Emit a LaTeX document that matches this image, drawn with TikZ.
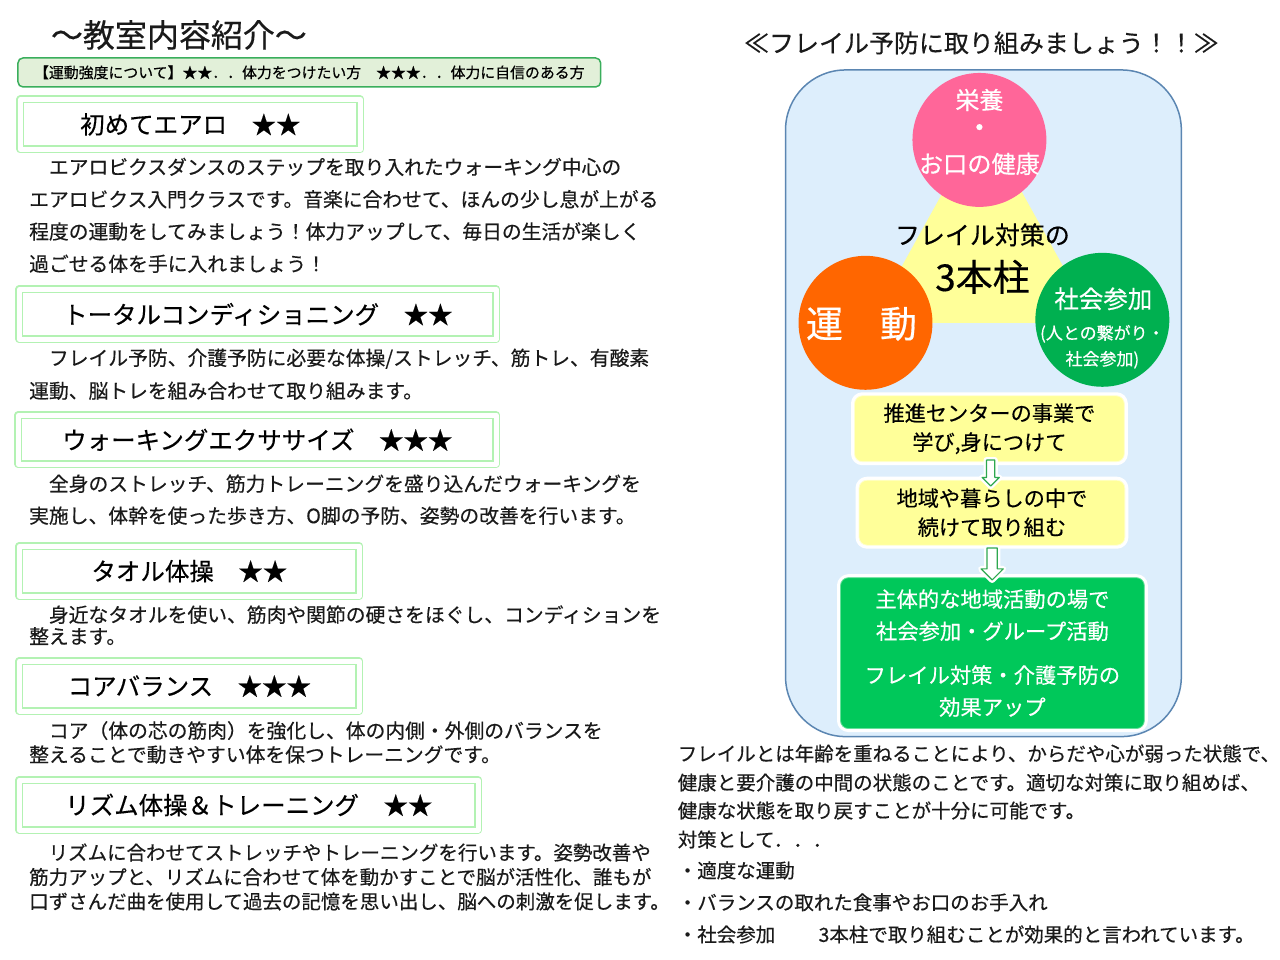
\documentclass[tikz,border=0pt]{standalone}
\usepackage{fontspec}
\setmainfont{Noto Sans CJK JP}[FakeBold=0.4]
\usetikzlibrary{shapes.arrows,calc}
\definecolor{inkgray}{HTML}{1A1A1A}
\definecolor{framegreen}{HTML}{B3F2B3}
\definecolor{bandfill}{HTML}{E2F0D9}
\definecolor{bandedge}{HTML}{3AAE5C}
\definecolor{panelfill}{HTML}{DDEEFC}
\definecolor{panelblue}{HTML}{5B86B2}
\definecolor{triyellow}{HTML}{FFFF99}
\definecolor{pinkc}{HTML}{FF6699}
\definecolor{orangec}{HTML}{FF6600}
\definecolor{greenc}{HTML}{00B050}
\definecolor{flowyellow}{HTML}{FFFF99}
\definecolor{yedge}{HTML}{FFFFD0}
\definecolor{flowgreen}{HTML}{00C85A}
\definecolor{gedge}{HTML}{66E09A}
\definecolor{arrowgreen}{HTML}{2EA84F}
\newcommand\fsz[2]{\fontsize{#1}{#2}\selectfont}
\begin{document}
\begin{tikzpicture}[x=1pt,y=-1pt,line join=round,
  body/.style={anchor=west,inner sep=0pt,font=\fsz{19.8}{24},text=inkgray},
  classbox/.style={draw=framegreen,double=white,double distance=5pt,line width=1.5pt,minimum height=50pt,inner sep=0pt,font=\fsz{24.5}{28}},
  circ/.style={circle,minimum size=134pt,inner sep=0pt},
  wtext/.style={text=white,inner sep=0pt},
  flowbox/.style={rounded corners=8pt,preaction={draw=white,line width=7pt},line width=0.8pt,inner sep=0pt,align=center,font=\fsz{21.2}{29}},
  flowarrow/.style={single arrow,shape border rotate=270,draw=arrowgreen,fill=white,line width=1.2pt,preaction={draw=white,line width=6pt}}]
\fill[white] (0,0) rectangle (1280,960);
% left column
\node[inner sep=0pt,font=\fsz{32}{36},text=inkgray] (heading) at (179,35) {～教室内容紹介～};
\node[draw=bandedge,fill=bandfill,line width=1.5pt,rounded corners=5pt,minimum width=583pt,minimum height=29pt,inner sep=0pt,font=\fsz{14.9}{18}] (level) at (309.5,72.5) {【運動強度について】★★．．体力をつけたい方　★★★．．体力に自信のある方};
\node[classbox,minimum width=340pt] (aero) at (190.5,124.5) {初めてエアロ　★★};
\node[classbox,minimum width=477pt] (total) at (258,314.5) {トータルコンディショニング　★★};
\node[classbox,minimum width=478pt,minimum height=49pt] (walk) at (257.5,440) {ウォーキングエクササイズ　★★★};
\node[classbox,minimum width=340pt] (towel) at (189.5,571.5) {タオル体操　★★};
\node[classbox,minimum width=340pt] (core) at (189.5,686.5) {コアバランス　★★★};
\node[classbox,minimum width=459pt] (rhythm) at (249,805.5) {リズム体操＆トレーニング　★★};
\foreach \t [count=\i] in {{　エアロビクスダンスのステップを取り入れたウォーキング中心の},{エアロビクス入門クラスです。音楽に合わせて、ほんの少し息が上がる},{程度の運動をしてみましょう！体力アップして、毎日の生活が楽しく},{過ごせる体を手に入れましょう！}}
  \node[body] (aero-\i) at (29,{167+32.3*(\i-1)}) {\t};
\foreach \t [count=\i] in {{　フレイル予防、介護予防に必要な体操/ストレッチ、筋トレ、有酸素},{運動、脳トレを組み合わせて取り組みます。}}
  \node[body] (total-\i) at (29,{359+32*(\i-1)}) {\t};
\foreach \t [count=\i] in {{　全身のストレッチ、筋力トレーニングを盛り込んだウォーキングを},{実施し、体幹を使った歩き方、O脚の予防、姿勢の改善を行います。}}
  \node[body] (walk-\i) at (29,{484+32*(\i-1)}) {\t};
\foreach \t [count=\i] in {{　身近なタオルを使い、筋肉や関節の硬さをほぐし、コンディションを},{整えます。}}
  \node[body] (towel-\i) at (29,{615+21.5*(\i-1)}) {\t};
\foreach \t [count=\i] in {{　コア（体の芯の筋肉）を強化し、体の内側・外側のバランスを},{整えることで動きやすい体を保つトレーニングです。}}
  \node[body] (core-\i) at (29,{731+24*(\i-1)}) {\t};
\foreach \t [count=\i] in {{　リズムに合わせてストレッチやトレーニングを行います。姿勢改善や},{筋力アップと、リズムに合わせて体を動かすことで脳が活性化、誰もが},{口ずさんだ曲を使用して過去の記憶を思い出し、脳への刺激を促します。}}
  \node[body,font=\fsz{19.5}{24}] (rhythm-\i) at (29,{853+24.5*(\i-1)}) {\t};
% right column
\node[inner sep=0pt,font=\fsz{25}{30},text=inkgray] (slogan) at (982,43) {≪フレイル予防に取り組みましょう！！≫};
\draw[panelblue,fill=panelfill,line width=1.5pt,rounded corners=60pt] (786,70) rectangle (1182,737);
\fill[triyellow] (983,121) -- (871,323) -- (1095,323) -- cycle;
\node[circ,fill=pinkc] (nutri) at (980,140) {};
\node[circ,fill=orangec] (exer) at (866,323) {};
\node[circ,fill=greenc] (social) at (1103,320) {};
\node[wtext,font=\fsz{24}{28}] (nutri-1) at (980,100) {栄養};
\node[wtext,font=\fsz{28}{28}] (nutri-2) at (980,131) {・};
\node[wtext,font=\fsz{24.2}{28}] (nutri-3) at (980,164) {お口の健康};
\node[inner sep=0pt,font=\fsz{25}{28}] (pillar-1) at (983,235) {フレイル対策の};
\node[inner sep=0pt,font=\fsz{37}{40}] (pillar-2) at (983,277) {3本柱};
\node[wtext,font=\fsz{37}{40}] (exer-1) at (862,324) {運　動};
\node[wtext,font=\fsz{24.5}{28}] (social-1) at (1104,299) {社会参加};
\node[wtext,font=\fsz{17}{20}] (social-2) at (1103,334) {(人との繋がり・};
\node[wtext,font=\fsz{17}{20}] (social-3) at (1103,360) {社会参加)};
\node[flowbox,draw=yedge,fill=flowyellow,minimum width=270pt,minimum height=66pt] (learn) at (990,429) {推進センターの事業で\\学び,身につけて};
\node[flowbox,draw=yedge,fill=flowyellow,minimum width=266pt,minimum height=65pt] (keep) at (992.5,513) {地域や暮らしの中で\\続けて取り組む};
\node[flowbox,draw=gedge,fill=flowgreen,text=white,minimum width=304pt,minimum height=151pt,font=\fsz{21.3}{32}] (effect) at (993,653.5) {主体的な地域活動の場で\\社会参加・グループ活動\\[12pt]フレイル対策・介護予防の\\効果アップ};
\node[flowarrow,minimum height=26pt,minimum width=17pt,inner sep=3.5pt,single arrow head extend=4.5pt] (arrow-1) at ($(learn.south)!0.5!(keep.north)$) {};
\node[flowarrow,minimum height=32pt,minimum width=22pt,inner sep=4.5pt,single arrow head extend=6pt] (arrow-2) at ($(keep.south)!0.5!(effect.north)$) {};
\foreach \t/\y [count=\i] in {{フレイルとは年齢を重ねることにより、からだや心が弱った状態で、}/754,{健康と要介護の中間の状態のことです。適切な対策に取り組めば、}/783,{健康な状態を取り戻すことが十分に可能です。}/811,{対策として．．．}/840,{・適度な運動}/871,{・バランスの取れた食事やお口のお手入れ}/903,{・社会参加　　 3本柱で取り組むことが効果的と言われています。}/935}
  \node[body,font=\fsz{19.5}{24}] (frail-\i) at (678,\y) {\t};
\end{tikzpicture}
\end{document}
